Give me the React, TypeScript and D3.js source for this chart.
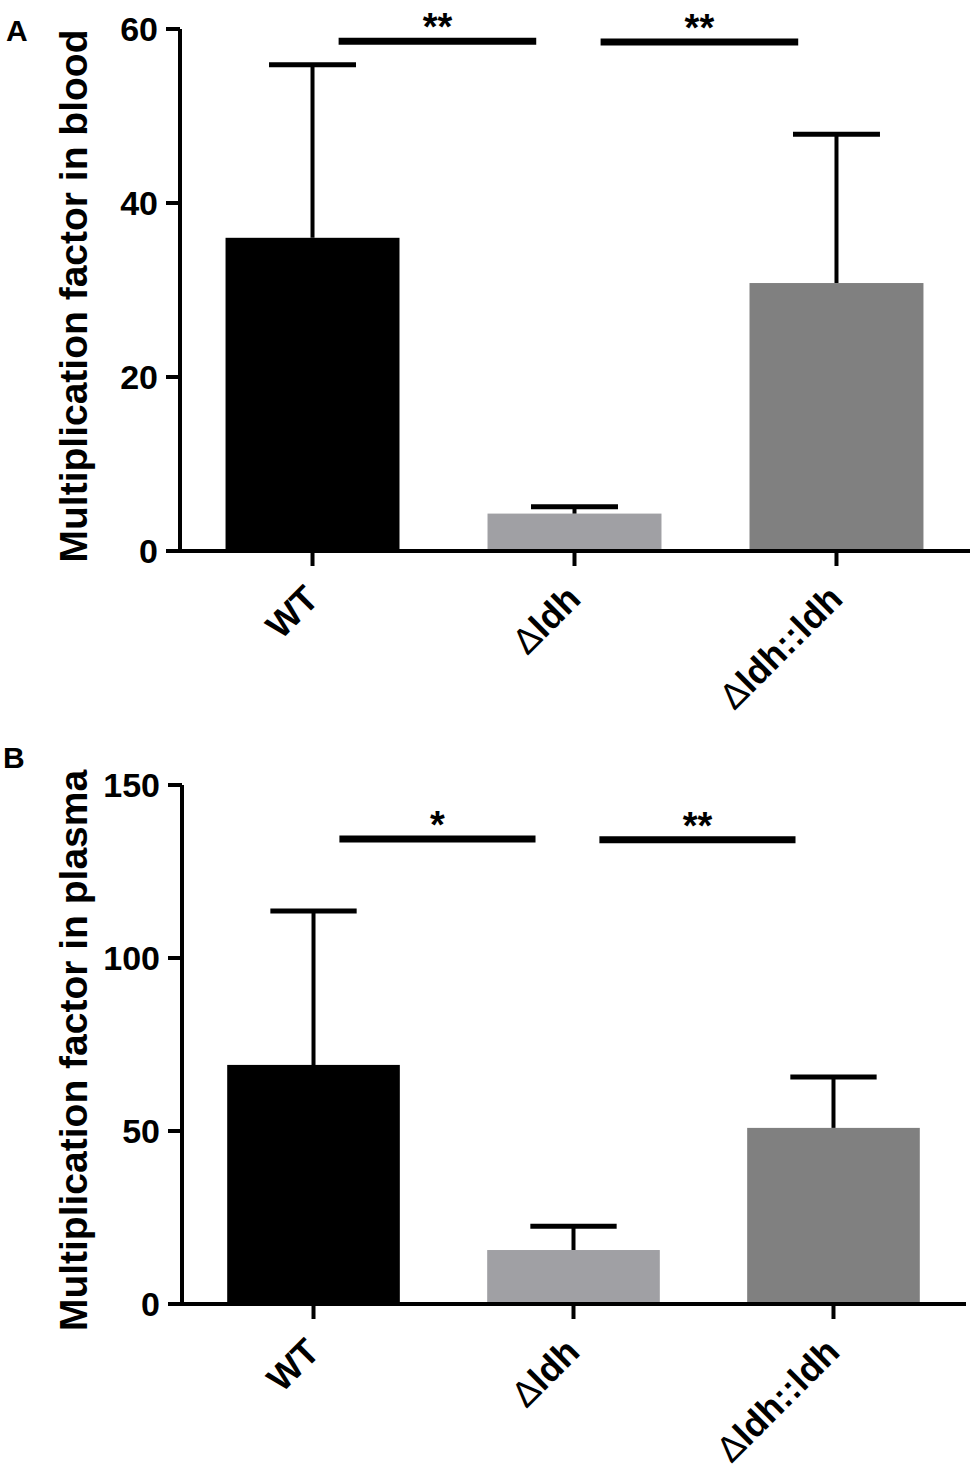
import React from 'react';
import * as d3 from 'd3';

// Data
const categories = ['WT', 'Δldh', 'Δldh::ldh'];
const barColors = ['#000000', '#a0a0a4', '#808080'];

const bloodMeans = [36.0, 4.3, 30.8];
const bloodSD = [19.9, 0.8, 17.1];
const bloodTicks = [0, 20, 40, 60];
const bloodSig = [
  { from: 0, to: 1, label: '**', level: 58.6 },
  { from: 1, to: 2, label: '**', level: 58.5 },
];

const plasmaMeans = [69.1, 15.6, 50.9];
const plasmaSD = [44.5, 6.9, 14.7];
const plasmaTicks = [0, 50, 100, 150];
const plasmaSig = [
  { from: 0, to: 1, label: '*', level: 134.4 },
  { from: 1, to: 2, label: '**', level: 134.2 },
];

const FONT = '"Liberation Sans", Arial, Helvetica, sans-serif';

interface PanelProps {
  letter: string;
  letterY: number;
  title: string;
  means: number[];
  sd: number[];
  ticks: number[];
  sig: { from: number; to: number; label: string; level: number }[];
  top: number;
  bottom: number;
  xRange: [number, number];
}

function CatLabel({ text, x, y }: { text: string; x: number; y: number }) {
  const hasDelta = text.startsWith('Δ');
  const rest = hasDelta ? text.slice(1) : text;
  return (
    <text
      transform={`translate(${x},${y}) rotate(-45)`}
      textAnchor="end"
      fontFamily={FONT}
      fontSize={36}
      fontWeight="bold"
      fill="#000"
    >
      {hasDelta && <tspan fontWeight="normal">Δ</tspan>}
      <tspan>{rest}</tspan>
    </text>
  );
}

function Panel({ letter, letterY, title, means, sd, ticks, sig, top, bottom, xRange }: PanelProps) {
  const y = d3.scaleLinear().domain([0, ticks[ticks.length - 1]]).range([bottom, top]);
  const x = d3.scaleBand<string>().domain(categories).range(xRange).paddingInner(0.336).paddingOuter(0.17);
  const bw = x.bandwidth();
  const axisX = xRange[0] - 1;
  const tickLen = 14;
  const center = (i: number) => (x(categories[i]) ?? 0) + bw / 2;

  return (
    <g>
      <text x={letter === 'A' ? 6 : 3} y={letterY} fontFamily={FONT} fontSize={30} fontWeight="bold">
        {letter}
      </text>
      <text
        transform={`translate(87,${(top + bottom) / 2 + 6}) rotate(-90)`}
        textAnchor="middle"
        fontFamily={FONT}
        fontSize={39}
        fontWeight="bold"
      >
        {title}
      </text>

      {/* bars */}
      {means.map((m, i) => (
        <rect
          key={'b' + i}
          x={x(categories[i])}
          y={y(m)}
          width={bw}
          height={y(0) - y(m)}
          fill={barColors[i]}
        />
      ))}

      {/* error bars (upper SD) */}
      {means.map((m, i) => (
        <g key={'e' + i} stroke="#000" strokeWidth={4}>
          <line x1={center(i)} x2={center(i)} y1={y(m)} y2={y(m + sd[i])} />
          <line x1={center(i) - bw / 4} x2={center(i) + bw / 4} y1={y(m + sd[i])} y2={y(m + sd[i])} strokeWidth={5} />
        </g>
      ))}

      {/* y axis */}
      <line x1={axisX} x2={axisX} y1={y(ticks[ticks.length - 1])} y2={y(0)} stroke="#000" strokeWidth={4} />
      {ticks.map((t) => (
        <g key={'t' + t}>
          <line x1={axisX - tickLen} x2={axisX} y1={y(t)} y2={y(t)} stroke="#000" strokeWidth={4} />
          <text
            x={axisX - tickLen - 8}
            y={y(t)}
            dy="0.36em"
            textAnchor="end"
            fontFamily={FONT}
            fontSize={34}
            fontWeight="bold"
          >
            {t}
          </text>
        </g>
      ))}

      {/* x axis */}
      <line x1={axisX - tickLen} x2={xRange[1] + 2} y1={y(0)} y2={y(0)} stroke="#000" strokeWidth={4} />
      {categories.map((c, i) => (
        <g key={'c' + c}>
          <line x1={center(i)} x2={center(i)} y1={y(0)} y2={y(0) + 15} stroke="#000" strokeWidth={4} />
          <CatLabel text={c} x={center(i) + 8} y={y(0) + 50} />
        </g>
      ))}

      {/* significance */}
      {sig.map((s, k) => {
        const x1 = center(s.from) + bw * 0.15;
        const x2 = center(s.to) - bw * 0.22;
        const yy = y(s.level);
        return (
          <g key={'s' + k}>
            <line x1={x1} x2={x2} y1={yy} y2={yy} stroke="#000" strokeWidth={7} />
            <text
              x={(x1 + x2) / 2}
              y={yy - 1}
              textAnchor="middle"
              fontFamily={FONT}
              fontSize={38}
              fontWeight="bold"
            >
              {s.label}
            </text>
          </g>
        );
      })}
    </g>
  );
}

export default function App() {
  return (
    <svg
      width={970}
      height={1471}
      style={{ position: 'absolute', left: 0, top: 0, background: '#fff' }}
    >
      <rect width={970} height={1471} fill="#fff" />
      <Panel
        letter="A"
        letterY={41}
        title="Multiplication factor in blood"
        means={bloodMeans}
        sd={bloodSD}
        ticks={bloodTicks}
        sig={bloodSig}
        top={29}
        bottom={551}
        xRange={[181, 968]}
      />
      <Panel
        letter="B"
        letterY={768}
        title="Multiplication factor in plasma"
        means={plasmaMeans}
        sd={plasmaSD}
        ticks={plasmaTicks}
        sig={plasmaSig}
        top={785}
        bottom={1304}
        xRange={[183, 964]}
      />
    </svg>
  );
}
